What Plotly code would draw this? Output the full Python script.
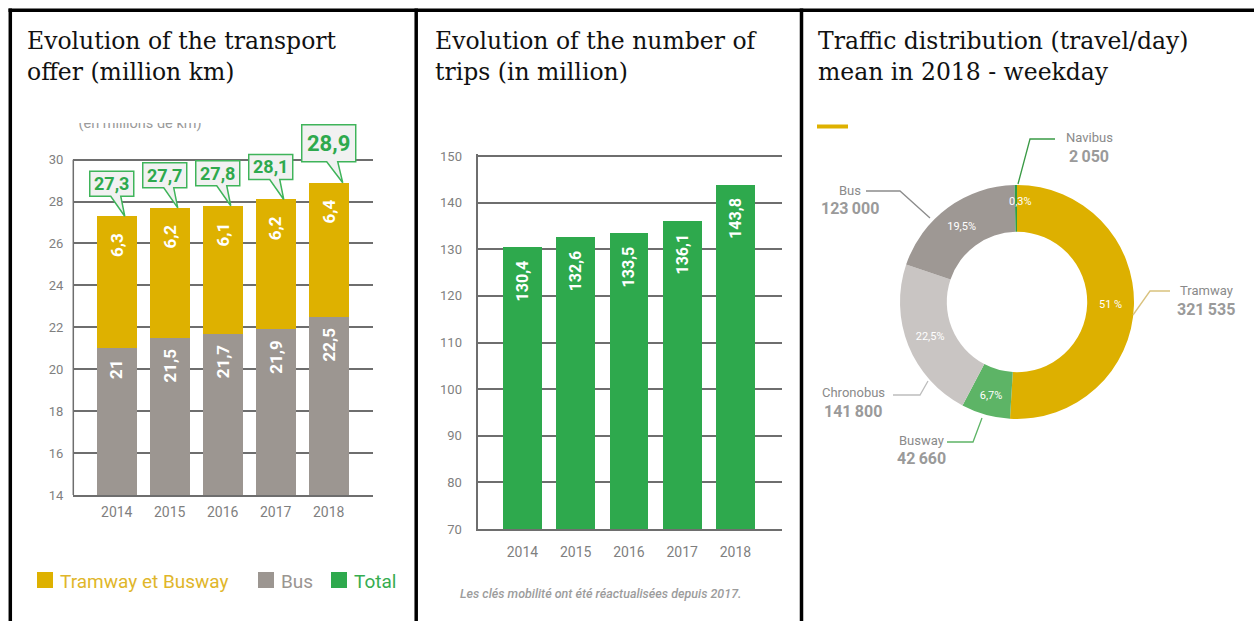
import plotly.graph_objects as go

W, H = 1254, 621


def px(x):
    return x / W


def py(y):
    return 1 - y / H


# ---- data -------------------------------------------------------------
years = ["2014", "2015", "2016", "2017", "2018"]
bus_offer = [21, 21.5, 21.7, 21.9, 22.5]            # million km
tram_busway_offer = [6.3, 6.2, 6.1, 6.2, 6.4]       # million km
trips = [130.4, 132.6, 133.5, 136.1, 143.8]         # million trips
modes = ["Tramway", "Busway", "Chronobus", "Bus", "Navibus"]
daily_trips = [321535, 42660, 141800, 123000, 2050]
share_labels = ["51 %", "6,7%", "22,5%", "19,5%", "0,3%"]
offer_ticks = list(range(14, 31, 2))
trip_ticks = list(range(70, 151, 10))

# ---- styles -----------------------------------------------------------
GOLD = "#DEB100"
GREY = "#9C9691"
GREEN = "#2EA94D"
GRID = "#6E6E6E"
TICK = "#7F7F7F"
SANS = "Roboto"
SERIF = "DejaVu Serif"
pie_colors = ["#DDB000", "#5DB466", "#C9C5C3", "#9E9894", "#2F9E44"]


def fr(v):
    return f"{v:g}".replace(".", ",")


def thousands(v):
    return f"{v:,}".replace(",", "\u2009")


totals = [round(b + t, 1) for b, t in zip(bus_offer, tram_busway_offer)]
xpos = list(range(len(years)))

fig = go.Figure()

# ---- left: transport offer (stacked bars) -----------------------------
fig.add_trace(go.Bar(x=xpos, y=bus_offer, marker_color=GREY, width=0.75,
                     xaxis="x", yaxis="y", showlegend=False, hoverinfo="skip"))
fig.add_trace(go.Bar(x=xpos, y=tram_busway_offer, marker_color=GOLD, width=0.75,
                     xaxis="x", yaxis="y", showlegend=False, hoverinfo="skip"))

# ---- middle: number of trips -----------------------------------------
fig.add_trace(go.Bar(x=xpos, y=trips, marker_color=GREEN, width=0.73,
                     xaxis="x2", yaxis="y2", showlegend=False, hoverinfo="skip"))

# ---- right: traffic distribution donut -------------------------------
total_trips = sum(daily_trips)
# the thinnest slice gets its label placed by hand further below
inside = ["inside" if v / total_trips > 0.01 else "none" for v in daily_trips]

fig.add_trace(go.Pie(
    values=daily_trips, labels=modes, sort=False, direction="clockwise",
    rotation=0, hole=0.6, text=share_labels, textinfo="text",
    textposition=inside, insidetextorientation="horizontal",
    textfont=dict(family=SANS, size=11, color="white"),
    marker=dict(colors=pie_colors, line=dict(width=0)),
    domain=dict(x=[px(900), px(1134)], y=[py(419), py(185)]),
    showlegend=False, hoverinfo="skip",
))

# caption above the offer chart, cut by its own little frame
fig.add_trace(go.Scatter(
    x=[0.5], y=[0.93], mode="text", text=["(en millions de km)"],
    textfont=dict(family=SANS, size=14.5, color="#9A9A9A"),
    xaxis="x3", yaxis="y3", showlegend=False, hoverinfo="skip", cliponaxis=True,
))

annotations = []
shapes = []

# value labels inside the offer bars
for i in xpos:
    annotations.append(dict(
        x=i, y=bus_offer[i], xref="x", yref="y", text=fr(bus_offer[i]),
        textangle=-90, yanchor="top", xanchor="center", yshift=-9,
        showarrow=False, font=dict(family=SANS, size=17, color="white", weight="bold")))
    annotations.append(dict(
        x=i, y=totals[i], xref="x", yref="y", text=fr(tram_busway_offer[i]),
        textangle=-90, yanchor="top", xanchor="center", yshift=-15,
        showarrow=False, font=dict(family=SANS, size=17, color="white", weight="bold")))

# speech-bubble callouts with the totals
for i in xpos:
    big = i == len(xpos) - 1
    if big:
        L, R, B, T, t0, t1, tip, fs = -27, 27, 21, 58, -2, 9, 14, 22
    else:
        L, R, B, T, t0, t1, tip, fs = -27, 17, 20, 45, -6, 4, 8, 18
    path = (f"M{L},{B} L{t0},{B} L{tip},0 L{t1},{B} L{R},{B} "
            f"L{R},{T} L{L},{T} Z")
    shapes.append(dict(
        type="path", xref="x", yref="y", xsizemode="pixel", ysizemode="pixel",
        xanchor=i, yanchor=totals[i], path=path, fillcolor="#F1F1F1",
        line=dict(color="#3FB45A", width=1.5), layer="above"))
    annotations.append(dict(
        x=i, y=totals[i], xref="x", yref="y", text=fr(totals[i]),
        xshift=(L + R) / 2, yshift=(B + T) / 2, xanchor="center", yanchor="middle",
        showarrow=False, font=dict(family=SANS, size=fs, color="#2EA94D", weight="bold")))

# left axis line of the offer chart, stopping at the last tick
shapes.append(dict(type="line", xref="x domain", yref="y", x0=0, x1=0,
                   y0=offer_ticks[0], y1=offer_ticks[-1],
                   line=dict(color=GRID, width=1.5)))

# value labels inside the trip bars
for i in xpos:
    annotations.append(dict(
        x=i, y=trips[i], xref="x2", yref="y2", text=fr(trips[i]),
        textangle=-90, yanchor="top", xanchor="center", yshift=-11,
        showarrow=False, font=dict(family=SANS, size=16, color="white", weight="bold")))

# legend of the offer chart
legend_items = [("Tramway et Busway", GOLD, "#E0B62A", 37), ("Bus", GREY, "#9A9591", 258),
                ("Total", GREEN, "#36AD50", 331)]
for name, sq, tc, x0 in legend_items:
    shapes.append(dict(type="rect", xref="paper", yref="paper",
                       x0=px(x0), x1=px(x0 + 16), y0=py(588), y1=py(572),
                       fillcolor=sq, line=dict(width=0)))
    annotations.append(dict(x=px(x0 + 21), y=py(581), xref="paper", yref="paper",
                            text=name, xanchor="left", yanchor="middle", showarrow=False,
                            font=dict(family=SANS, size=19, color=tc)))

# panel titles
titles = [(25, "Evolution of the transport", "offer (million km)"),
          (433, "Evolution of the number of", "trips (in million)"),
          (816, "Traffic distribution (travel/day)", "mean in 2018 - weekday")]
for x0, l1, l2 in titles:
    for yc, line in ((41.5, l1), (72.5, l2)):
        annotations.append(dict(x=px(x0), y=py(yc), xref="paper", yref="paper",
                                text=line, xanchor="left", yanchor="middle",
                                showarrow=False,
                                font=dict(family=SERIF, size=23.5, color="#111111")))

# footnote of the trips chart
annotations.append(dict(x=px(600), y=py(593), xref="paper", yref="paper",
                        text="Les clés mobilité ont été réactualisées depuis 2017.",
                        xanchor="center", yanchor="middle", showarrow=False,
                        font=dict(family=SANS, size=12.5, color="#9C9C9C",
                                  style="italic", weight=500)))

# percentage of the thinnest slice
for t, pos in zip(share_labels, inside):
    if pos == "none":
        annotations.append(dict(x=px(1020), y=py(201), xref="paper", yref="paper",
                                text=t, xanchor="center", yanchor="middle",
                                showarrow=False,
                                font=dict(family=SANS, size=11, color="white")))

# donut callouts: name, value, leader line
donut_labels = {
    "Navibus": ((1089, 137), [(1018, 184), (1030, 139), (1055, 139)], "#3A9A45"),
    "Bus": ((850, 190), [(866, 191), (900, 191), (930, 218)], "#8C8C8C"),
    "Tramway": ((1206, 290), [(1133, 315), (1150, 291), (1170, 291)], "#D9C27E"),
    "Chronobus": ((853, 392), [(893, 395), (920, 395), (928, 381)], "#BDBDBD"),
    "Busway": ((921, 440), [(947, 442), (973, 442), (982, 418)], "#5DB466"),
}
for name, v in zip(modes, daily_trips):
    (cx, cy), pts, lc = donut_labels[name]
    annotations.append(dict(x=px(cx), y=py(cy), xref="paper", yref="paper", text=name,
                            xanchor="center", yanchor="middle", showarrow=False,
                            font=dict(family=SANS, size=13, color="#8A8A8A")))
    annotations.append(dict(x=px(cx), y=py(cy + 19), xref="paper", yref="paper",
                            text=thousands(v), xanchor="center", yanchor="middle",
                            showarrow=False,
                            font=dict(family=SANS, size=16, color="#9A9A9A", weight="bold")))
    path = "M" + " L".join(f"{px(x)},{py(y)}" for x, y in pts)
    shapes.append(dict(type="path", xref="paper", yref="paper", path=path,
                       line=dict(color=lc, width=1.3)))

# small accent dash
shapes.append(dict(type="line", xref="paper", yref="paper", x0=px(817), x1=px(848),
                   y0=py(126.5), y1=py(126.5), line=dict(color=GOLD, width=4)))

# table borders
black = dict(color="black", width=3.5)
shapes.append(dict(type="line", xref="paper", yref="paper", x0=px(8.5), x1=1,
                   y0=py(10.3), y1=py(10.3), line=black))
for xb in (10.3, 416.2, 801.5):
    shapes.append(dict(type="line", xref="paper", yref="paper", x0=px(xb), x1=px(xb),
                       y0=py(8.5), y1=0, line=black))

axis_common = dict(showgrid=False, zeroline=False, ticks="", fixedrange=True,
                   automargin=False)
# offer chart: 30 sits at 159.6 px, the frame reaches higher for the callouts
fig.update_layout(
    template="none",
    width=W, height=H, margin=dict(l=0, r=0, t=0, b=0, pad=0, autoexpand=False),
    paper_bgcolor="white", plot_bgcolor="rgba(0,0,0,0)",
    barmode="stack", showlegend=False,
    xaxis=dict(axis_common, domain=[px(73.3), px(372.7)], range=[-0.82, 4.83],
               tickvals=xpos, ticktext=years, showline=True, linecolor=GRID,
               linewidth=1.5, ticklabelstandoff=3,
               tickfont=dict(family=SANS, size=14, color=TICK), anchor="y"),
    yaxis=dict(axis_common, domain=[py(495), py(121.9)], range=[14, 31.8],
               tickvals=offer_ticks, showgrid=True, gridcolor=GRID, gridwidth=1.5,
               showline=False, ticklabelstandoff=9,
               tickfont=dict(family=SANS, size=13, color=TICK), anchor="x"),
    xaxis2=dict(axis_common, domain=[px(478.3), px(781.7)], range=[-0.83, 4.87],
                tickvals=xpos, ticktext=years, showline=True, linecolor=GRID,
                linewidth=1.5, ticklabelstandoff=9,
                tickfont=dict(family=SANS, size=14, color=TICK), anchor="y2"),
    yaxis2=dict(axis_common, domain=[py(529), py(153.7)], range=[70, 150.5],
                tickvals=trip_ticks, showgrid=True, gridcolor=GRID, gridwidth=1.5,
                showline=True, linecolor=GRID, linewidth=1.5, ticklabelstandoff=12,
                tickfont=dict(family=SANS, size=13, color=TICK), anchor="x2"),
    xaxis3=dict(domain=[px(40), px(240)], range=[0, 1], visible=False,
                fixedrange=True, automargin=False, anchor="y3"),
    yaxis3=dict(domain=[py(137), py(123)], range=[0, 1], visible=False,
                fixedrange=True, automargin=False, anchor="x3"),
    annotations=annotations, shapes=shapes,
)

fig.write_html("out.html")
